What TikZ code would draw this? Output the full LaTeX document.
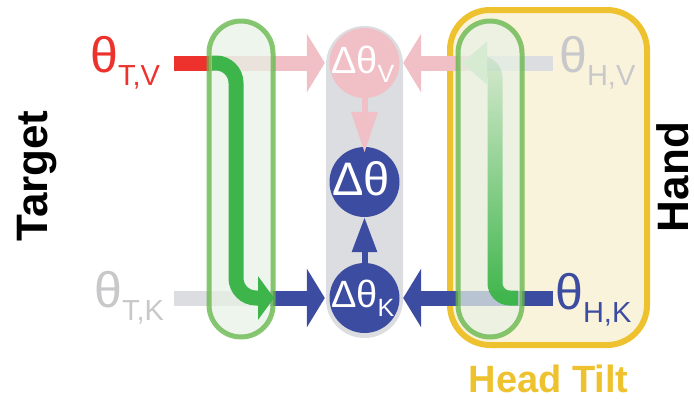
\documentclass[tikz,border=0pt]{standalone}
\usepackage{fontspec}
\setmainfont{Liberation Sans}
\usetikzlibrary{arrows.meta,fadings}
\definecolor{redc}{RGB}{237,50,45}
\definecolor{pinkc}{RGB}{240,192,198}
\definecolor{navy}{RGB}{60,76,160}
\definecolor{grayt}{RGB}{200,200,202}
\definecolor{grayb}{RGB}{220,221,224}
\definecolor{greena}{RGB}{61,181,74}
\definecolor{greenl}{RGB}{100,182,72}
\definecolor{greenf}{RGB}{232,241,229}
\definecolor{greentip}{RGB}{214,235,210}
\definecolor{yellowc}{RGB}{238,194,46}
\definecolor{yellowf}{RGB}{250,243,220}
\tikzfading[name=gfade, top color=transparent!88, bottom color=transparent!0]
\newcommand\thlab[1]{{\fontsize{50}{50}\selectfont θ}\raisebox{-13pt}{\fontsize{29}{29}\selectfont #1}}
\newcommand\dtlab[1]{\fontsize{38}{38}\selectfont Δθ\raisebox{-9pt}{\fontsize{25}{25}\selectfont #1}}
\begin{document}
\begin{tikzpicture}[x=1pt,y=-1pt,
  bar/.style={line width=15pt},
  hhead/.style={-{Triangle[length=18pt,width=58pt]}},
  pill/.style={draw=greenl, draw opacity=0.77, fill=greenf, fill opacity=0.73, line width=5pt, rounded corners=32pt, minimum width=64pt, minimum height=316pt, inner sep=0pt},
  disc/.style={circle, minimum size=70pt, inner sep=0pt},
  lab/.style={anchor=base west, inner sep=0pt},
  side/.style={rotate=90, anchor=base, inner sep=0pt, font=\bfseries\fontsize{44}{44}\selectfont},
  garrow/.style={draw=greena, line width=15pt, rounded corners=20pt},
]
\useasboundingbox (0,0) rectangle (694,400);
% hand / head tilt box
\node[draw=yellowc, fill=yellowf, line width=6pt, rounded corners=40pt, minimum width=197pt, minimum height=335pt, inner sep=0pt] (hbox) at (548.5,177.5) {};
% central column
\node[fill=grayb, rounded corners=38.5pt, minimum width=77pt, minimum height=312pt, inner sep=0pt] (col) at (364.5,182) {};
% circles
\node[disc, fill=pinkc] (dv) at (364.5,63) {};
\node[disc, fill=navy] (d) at (364.5,182) {};
\node[disc, fill=navy] (dk) at (364.5,298) {};
% horizontal bars
\coordinate (tvs) at (174,63); \coordinate (tvm) at (213,63);
\draw[bar, redc] (tvs) -- (tvm);
\draw[bar, pinkc, hhead, shorten >=4.5pt] (tvm) -- (dv.west);
\coordinate (hvs) at (553,63); \coordinate (hvm) at (468,63);
\draw[bar, grayb] (hvs) -- (hvm);
\draw[bar, pinkc, hhead, shorten >=3.5pt] (hvm) -- (dv.east);
\coordinate (tks) at (174,298); \coordinate (tkm) at (270,298);
\draw[bar, grayb] (tks) -- (tkm);
\draw[bar, navy, hhead, shorten >=4.5pt] (tkm) -- (dk.west);
\coordinate (hks) at (553,298);
\draw[bar, navy, hhead, shorten >=3.5pt] (hks) -- (dk.east);
% vertical arrows
\draw[line width=6pt, pinkc, -{Triangle[length=41pt,width=25pt]}, shorten >=-6pt] (dv.south) -- (d.north);
\draw[line width=6pt, navy, -{Triangle[length=35pt,width=24pt]}] (dk.north) -- (d.south);
% green pills
\node[pill] (lp) at (241,179) {};
\node[pill] (rp) at (490,179) {};
% green arrows
\coordinate (ga1) at (212,63); \coordinate (ga2) at (236,63);
\coordinate (ga3) at (236,298); \coordinate (ga4) at (274,298);
\draw[garrow, -{Triangle[length=16pt,width=43pt]}] (ga1) -- (ga2) -- (ga3) -- (ga4);
\coordinate (gb1) at (518,298); \coordinate (gb2) at (495,298);
\coordinate (gb3) at (495,63); \coordinate (gb4) at (480,63);
\draw[garrow, rounded corners=15pt, path fading=gfade] (gb1) -- (gb2) -- (gb3) -- (gb4);
\coordinate (gt1) at (487,41.5); \coordinate (gt2) at (462,63); \coordinate (gt3) at (487,84.5);
\fill[greentip] (gt1) -- (gt2) -- (gt3) -- cycle;
% labels
\node[lab, redc] (tv) at (90,72) {\thlab{T,V}};
\node[lab, grayt] (tk) at (94,307) {\thlab{T,K}};
\node[lab, grayt] (hv) at (559,72) {\thlab{H,V}};
\node[lab, navy] (hk) at (555,309) {\thlab{H,K}};
\node[lab, white] (dvl) at (331,73) {\dtlab{V}};
\node[lab, white] (dl) at (332,195) {\fontsize{47}{47}\selectfont Δθ};
\node[lab, white] (dkl) at (331,307) {\dtlab{K}};
\node[side] (tg) at (47,176) {Target};
\node[side] (hd) at (688,177) {Hand};
\node[anchor=base, inner sep=0pt, text=yellowc, font=\bfseries\fontsize{38}{38}\selectfont] (ht) at (548.5,392) {Head Tilt};
\end{tikzpicture}
\end{document}
